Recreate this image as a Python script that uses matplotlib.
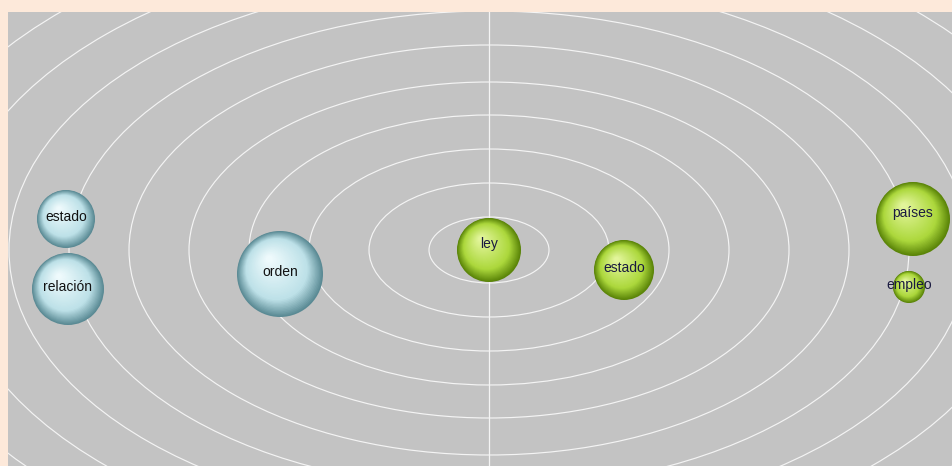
import numpy as np
import matplotlib
matplotlib.use("Agg")
import matplotlib.pyplot as plt
from matplotlib.patches import Ellipse, Circle
from matplotlib.colors import to_rgb

# ---- data ----
terms = ["ley", "estado", "países", "empleo", "estado", "relación", "orden"]
pos_x = [489, 624, 913, 909, 66, 68, 280]
pos_y = [250, 270, 219, 287, 219, 289, 274]
radius = [32, 30, 37, 16, 29, 36, 43]
group = ["green", "green", "green", "green", "blue", "blue", "blue"]

ring_center = (489, 250)
ring_semi_x = [60, 120, 180, 240, 300, 360, 420, 480, 540, 600, 660]
ring_semi_y = [33, 67, 101, 135, 168, 205, 239, 272, 306, 340, 374]

palette = {
    "green": {"edge": "#5a8408", "mid": "#acd83c", "hi": "#e2f59a", "text": "#1a1a40"},
    "blue": {"edge": "#5a8a94", "mid": "#bde1e8", "hi": "#eefafc", "text": "#111111"},
}

W, H = 953, 466
fig = plt.figure(figsize=(W / 100, H / 100), dpi=100)
fig.patch.set_facecolor("#fde9da")
ax = fig.add_axes([8 / W, 0, (W - 8) / W, (H - 12) / H])
ax.set_facecolor("#c3c3c3")
ax.set_xlim(8, W)
ax.set_ylim(H, 12)
ax.axis("off")
ax.add_patch(plt.Rectangle((8, 12), W - 8, H - 12, color="#c3c3c3", zorder=0))

for a, b in zip(ring_semi_x, ring_semi_y):
    ax.add_patch(Ellipse(ring_center, 2 * a, 2 * b, fill=False, ec="#f4f4f4",
                         lw=0.85, zorder=1))
ax.plot([ring_center[0], ring_center[0]], [12, H], color="#f4f4f4", lw=0.9, zorder=1)


def lerp(c1, c2, t):
    c1, c2 = np.array(to_rgb(c1)), np.array(to_rgb(c2))
    return tuple(c1 + (c2 - c1) * t)


for name, x, y, r, g in zip(terms, pos_x, pos_y, radius, group):
    p = palette[g]
    n = 40
    hx, hy = x - 0.25 * r, y - 0.35 * r
    for i in range(n):
        t = i / (n - 1)
        rr = r * (1 - t * 0.92)
        cx = x + (hx - x) * t
        cy = y + (hy - y) * t
        if t < 0.3:
            col = lerp(p["edge"], p["mid"], t / 0.3)
        else:
            col = lerp(p["mid"], p["hi"], (t - 0.3) / 0.7)
        ax.add_patch(Circle((cx, cy), rr, color=col, lw=0, zorder=3 + t))
    ty = y - 6 if name in ("ley", "países") else y - 2
    ax.text(x, ty, name, ha="center", va="center", fontsize=10,
            family=["Liberation Sans", "DejaVu Sans"], color=p["text"], zorder=10)

fig.savefig("out.png", dpi=100, facecolor=fig.get_facecolor())
